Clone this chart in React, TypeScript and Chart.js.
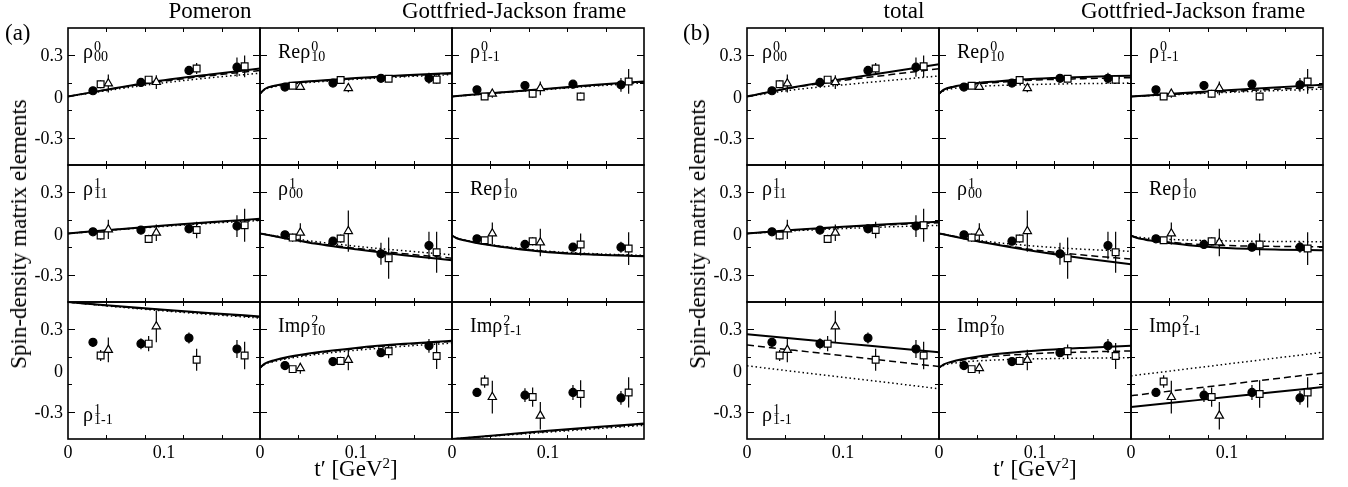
import React, { useEffect, useRef } from 'react';
import { Chart, registerables } from 'chart.js';
Chart.register(...registerables);

// ---------- axes ----------
const X_MIN = 0, X_MAX = 0.2;
const Y_MIN = -0.5, Y_MAX = 0.5;
const X_TICKS = [0, 0.02, 0.04, 0.06, 0.08, 0.1, 0.12, 0.14, 0.16, 0.18, 0.2];
const X_MAJOR = [0, 0.1];
const X_MAJOR_LABELS = ['0', '0.1'];
const Y_TICKS = [-0.5, -0.4, -0.3, -0.2, -0.1, 0, 0.1, 0.2, 0.3, 0.4, 0.5];
const Y_MAJOR = [-0.3, 0, 0.3];
const Y_MAJOR_LABELS = ['-0.3', '0', '0.3'];

// ---------- t' positions of the three data sets ----------
const T_CIRCLE = [0.026, 0.076, 0.126, 0.176];
const T_SQUARE = [0.034, 0.084, 0.134, 0.184];
const T_TRIANGLE = [0.042, 0.092];
// t' grids of the model curves
const T_LIN = [0, 0.05, 0.1, 0.15, 0.2];
const T_STEEP = [0, 0.005, 0.015, 0.03, 0.06, 0.1, 0.15, 0.2];

// ---------- measured values (same in (a) and (b)) ----------
// rho^0_00
const r000_circ = [0.042, 0.103, 0.19, 0.214];
const r000_circErr = [0.012, 0.015, 0.03, 0.07];
const r000_sq = [0.09, 0.123, 0.204, 0.22];
const r000_sqErr = [0.03, 0.02, 0.04, 0.08];
const r000_tri = [0.095, 0.105];
const r000_triErr = [0.065, 0.05];
// Re rho^0_10
const re010_circ = [0.069, 0.098, 0.133, 0.133];
const re010_circErr = [0.01, 0.015, 0.02, 0.04];
const re010_sq = [0.079, 0.12, 0.13, 0.123];
const re010_sqErr = [0.01, 0.02, 0.02, 0.03];
const re010_tri = [0.07, 0.061];
const re010_triErr = [0.02, 0.03];
// rho^0_1-1
const r01m1_circ = [0.049, 0.08, 0.09, 0.085];
const r01m1_circErr = [0.015, 0.025, 0.025, 0.05];
const r01m1_sq = [0.0, 0.02, 0.0, 0.11];
const r01m1_sqErr = [0.015, 0.03, 0.03, 0.09];
const r01m1_tri = [0.02, 0.06];
const r01m1_triErr = [0.03, 0.05];
// rho^1_11
const r111_circ = [0.012, 0.025, 0.034, 0.054];
const r111_circErr = [0.015, 0.03, 0.03, 0.08];
const r111_sq = [-0.015, -0.04, 0.025, 0.06];
const r111_sqErr = [0.03, 0.03, 0.06, 0.12];
const r111_tri = [0.03, 0.005];
const r111_triErr = [0.07, 0.06];
// rho^1_00
const r100_circ = [-0.01, -0.056, -0.148, -0.088];
const r100_circErr = [0.015, 0.03, 0.08, 0.1];
const r100_sq = [-0.03, -0.037, -0.18, -0.137];
const r100_sqErr = [0.03, 0.03, 0.15, 0.15];
const r100_tri = [0.005, 0.017];
const r100_triErr = [0.07, 0.15];
// Re rho^1_10
const re110_circ = [-0.039, -0.08, -0.1, -0.1];
const re110_circErr = [0.015, 0.03, 0.03, 0.04];
const re110_sq = [-0.049, -0.057, -0.08, -0.11];
const re110_sqErr = [0.02, 0.03, 0.08, 0.12];
const re110_tri = [0.0, -0.066];
const re110_triErr = [0.08, 0.1];
// rho^1_1-1
const r11m1_circ = [0.206, 0.196, 0.237, 0.157];
const r11m1_circErr = [0.03, 0.04, 0.04, 0.065];
const r11m1_sq = [0.109, 0.196, 0.078, 0.109];
const r11m1_sqErr = [0.04, 0.055, 0.08, 0.1];
const r11m1_tri = [0.15, 0.322];
const r11m1_triErr = [0.09, 0.115];
// Im rho^2_10
const im210_circ = [0.036, 0.065, 0.13, 0.18];
const im210_circErr = [0.01, 0.015, 0.03, 0.05];
const im210_sq = [0.01, 0.07, 0.14, 0.106];
const im210_sqErr = [0.02, 0.03, 0.05, 0.095];
const im210_tri = [0.017, 0.077];
const im210_triErr = [0.04, 0.075];
// Im rho^2_1-1
const im21m1_circ = [-0.16, -0.18, -0.16, -0.2];
const im21m1_circErr = [0.025, 0.05, 0.055, 0.05];
const im21m1_sq = [-0.08, -0.194, -0.172, -0.16];
const im21m1_sqErr = [0.045, 0.07, 0.1, 0.11];
const im21m1_tri = [-0.194, -0.33];
const im21m1_triErr = [0.12, 0.1];

// ---------- model curves (a) Pomeron ----------
const pom_r000_solid = [0, 0.062, 0.118, 0.162, 0.204];
const pom_r000_dash = [0, 0.06, 0.112, 0.154, 0.19];
const pom_r000_dot = [0, 0.053, 0.1, 0.138, 0.17];
const pom_re010_solid = [0.02, 0.055, 0.078, 0.097, 0.115, 0.135, 0.155, 0.172];
const pom_re010_dash = [0.02, 0.054, 0.076, 0.094, 0.112, 0.131, 0.15, 0.166];
const pom_re010_dot = [0.02, 0.05, 0.071, 0.089, 0.107, 0.126, 0.144, 0.16];
const pom_r01m1_solid = [0, 0.03, 0.057, 0.085, 0.11];
const pom_r01m1_dash = [0, 0.029, 0.055, 0.082, 0.106];
const pom_r01m1_dot = [0, 0.027, 0.052, 0.077, 0.1];
const pom_r111_solid = [0, 0.03, 0.058, 0.084, 0.107];
const pom_r111_dash = [0, 0.029, 0.056, 0.081, 0.102];
const pom_r111_dot = [0, 0.027, 0.052, 0.075, 0.095];
const pom_r100_solid = [0, -0.065, -0.115, -0.158, -0.195];
const pom_r100_dash = [0, -0.062, -0.108, -0.147, -0.18];
const pom_r100_dot = [0, -0.052, -0.093, -0.126, -0.155];
const pom_re110_solid = [-0.015, -0.035, -0.053, -0.075, -0.105, -0.136, -0.155, -0.166];
const pom_re110_dash = [-0.015, -0.034, -0.052, -0.073, -0.103, -0.133, -0.152, -0.163];
const pom_re110_dot = [-0.015, -0.033, -0.05, -0.07, -0.1, -0.129, -0.148, -0.16];
const pom_r11m1_solid = [0.5, 0.47, 0.443, 0.418, 0.395];
const pom_r11m1_dash = [0.5, 0.468, 0.44, 0.414, 0.39];
const pom_r11m1_dot = [0.5, 0.465, 0.435, 0.408, 0.383];
const pom_im210_solid = [0.02, 0.05, 0.075, 0.1, 0.133, 0.165, 0.195, 0.218];
const pom_im210_dash = [0.02, 0.048, 0.072, 0.096, 0.128, 0.16, 0.19, 0.212];
const pom_im210_dot = [0.02, 0.045, 0.066, 0.088, 0.118, 0.148, 0.177, 0.2];
const pom_im21m1_solid = [-0.5, -0.47, -0.44, -0.412, -0.387];
const pom_im21m1_dash = [-0.5, -0.472, -0.444, -0.417, -0.392];
const pom_im21m1_dot = [-0.5, -0.475, -0.45, -0.425, -0.4];

// ---------- model curves (b) total ----------
const tot_r000_solid = [0, 0.07, 0.127, 0.18, 0.235];
const tot_r000_dash = [0, 0.067, 0.117, 0.16, 0.203];
const tot_r000_dot = [0, 0.05, 0.085, 0.118, 0.15];
const tot_re010_solid = [0.02, 0.05, 0.072, 0.09, 0.11, 0.13, 0.143, 0.152];
const tot_re010_dash = [0.02, 0.048, 0.069, 0.086, 0.103, 0.12, 0.13, 0.137];
const tot_re010_dot = [0.02, 0.042, 0.058, 0.07, 0.08, 0.088, 0.094, 0.098];
const tot_r01m1_solid = [0, 0.023, 0.045, 0.066, 0.086];
const tot_r01m1_dash = [0, 0.018, 0.036, 0.053, 0.069];
const tot_r01m1_dot = [0, 0.015, 0.03, 0.043, 0.054];
const tot_r111_solid = [0, 0.028, 0.05, 0.07, 0.086];
const tot_r111_dash = [0, 0.025, 0.046, 0.064, 0.079];
const tot_r111_dot = [0, 0.02, 0.036, 0.049, 0.059];
const tot_r100_solid = [0, -0.07, -0.13, -0.18, -0.224];
const tot_r100_dash = [0, -0.066, -0.12, -0.157, -0.187];
const tot_r100_dot = [0, -0.058, -0.092, -0.115, -0.13];
const tot_re110_solid = [-0.015, -0.03, -0.045, -0.06, -0.085, -0.105, -0.117, -0.122];
const tot_re110_dash = [-0.015, -0.028, -0.042, -0.055, -0.075, -0.088, -0.094, -0.097];
const tot_re110_dot = [-0.015, -0.024, -0.033, -0.04, -0.048, -0.054, -0.058, -0.06];
const tot_r11m1_solid = [0.264, 0.231, 0.198, 0.166, 0.133];
const tot_r11m1_dash = [0.186, 0.147, 0.108, 0.068, 0.029];
const tot_r11m1_dot = [0.034, -0.008, -0.05, -0.091, -0.133];
const tot_im210_solid = [0.02, 0.045, 0.068, 0.09, 0.12, 0.145, 0.165, 0.18];
const tot_im210_dash = [0.02, 0.043, 0.063, 0.082, 0.105, 0.123, 0.135, 0.143];
const tot_im210_dot = [0.02, 0.038, 0.053, 0.065, 0.077, 0.085, 0.09, 0.094];
const tot_im21m1_solid = [-0.266, -0.23, -0.194, -0.157, -0.121];
const tot_im21m1_dash = [-0.184, -0.143, -0.102, -0.06, -0.019];
const tot_im21m1_dot = [-0.039, 0.004, 0.047, 0.09, 0.133];

// ---------- panel labels ----------
const LABEL_PREFIX = ['', 'Re', '', '', '', 'Re', '', 'Im', 'Im'];
const LABEL_SUP = ['0', '0', '0', '1', '1', '1', '1', '2', '2'];
const LABEL_SUB = ['00', '10', '1-1', '11', '00', '10', '1-1', '10', '1-1'];
const LABEL_AT_BOTTOM = [false, false, false, false, false, false, true, false, false];

// ---------- tables built from the arrays ----------
const ELEMENTS = [
  { circ: r000_circ, circErr: r000_circErr, sq: r000_sq, sqErr: r000_sqErr, tri: r000_tri, triErr: r000_triErr, curveT: T_LIN },
  { circ: re010_circ, circErr: re010_circErr, sq: re010_sq, sqErr: re010_sqErr, tri: re010_tri, triErr: re010_triErr, curveT: T_STEEP },
  { circ: r01m1_circ, circErr: r01m1_circErr, sq: r01m1_sq, sqErr: r01m1_sqErr, tri: r01m1_tri, triErr: r01m1_triErr, curveT: T_LIN },
  { circ: r111_circ, circErr: r111_circErr, sq: r111_sq, sqErr: r111_sqErr, tri: r111_tri, triErr: r111_triErr, curveT: T_LIN },
  { circ: r100_circ, circErr: r100_circErr, sq: r100_sq, sqErr: r100_sqErr, tri: r100_tri, triErr: r100_triErr, curveT: T_LIN },
  { circ: re110_circ, circErr: re110_circErr, sq: re110_sq, sqErr: re110_sqErr, tri: re110_tri, triErr: re110_triErr, curveT: T_STEEP },
  { circ: r11m1_circ, circErr: r11m1_circErr, sq: r11m1_sq, sqErr: r11m1_sqErr, tri: r11m1_tri, triErr: r11m1_triErr, curveT: T_LIN },
  { circ: im210_circ, circErr: im210_circErr, sq: im210_sq, sqErr: im210_sqErr, tri: im210_tri, triErr: im210_triErr, curveT: T_STEEP },
  { circ: im21m1_circ, circErr: im21m1_circErr, sq: im21m1_sq, sqErr: im21m1_sqErr, tri: im21m1_tri, triErr: im21m1_triErr, curveT: T_LIN },
];

const POMERON_CURVES = [
  [pom_r000_solid, pom_r000_dash, pom_r000_dot],
  [pom_re010_solid, pom_re010_dash, pom_re010_dot],
  [pom_r01m1_solid, pom_r01m1_dash, pom_r01m1_dot],
  [pom_r111_solid, pom_r111_dash, pom_r111_dot],
  [pom_r100_solid, pom_r100_dash, pom_r100_dot],
  [pom_re110_solid, pom_re110_dash, pom_re110_dot],
  [pom_r11m1_solid, pom_r11m1_dash, pom_r11m1_dot],
  [pom_im210_solid, pom_im210_dash, pom_im210_dot],
  [pom_im21m1_solid, pom_im21m1_dash, pom_im21m1_dot],
];
const TOTAL_CURVES = [
  [tot_r000_solid, tot_r000_dash, tot_r000_dot],
  [tot_re010_solid, tot_re010_dash, tot_re010_dot],
  [tot_r01m1_solid, tot_r01m1_dash, tot_r01m1_dot],
  [tot_r111_solid, tot_r111_dash, tot_r111_dot],
  [tot_r100_solid, tot_r100_dash, tot_r100_dot],
  [tot_re110_solid, tot_re110_dash, tot_re110_dot],
  [tot_r11m1_solid, tot_r11m1_dash, tot_r11m1_dot],
  [tot_im210_solid, tot_im210_dash, tot_im210_dot],
  [tot_im21m1_solid, tot_im21m1_dash, tot_im21m1_dot],
];

// ---------- layout ----------
const SERIF = '"Liberation Serif", "Times New Roman", Times, serif';
const PANEL_W = 192;
const PANEL_H = 137;
const GRID_TOP = 28;
const GROUPS = [
  { left: 68, curves: POMERON_CURVES, tag: '(a)', tagX: 5, title: 'Pomeron', titleX: 210, frameX: 402, yTitleX: 19 },
  { left: 747, curves: TOTAL_CURVES, tag: '(b)', tagX: 683, title: 'total', titleX: 904, frameX: 1081, yTitleX: 698 },
];
const PAD_L = 60, PAD_T = 8, PAD_R = 8, PAD_B = 32;

function pts(ts: number[], vs: number[]) {
  return ts.map((t, i) => ({ x: t, y: vs[i] }));
}
function errPts(ts: number[], vs: number[], es: number[]) {
  const out: any[] = [];
  ts.forEach((t, i) => {
    out.push({ x: t, y: vs[i] - es[i] }, { x: t, y: vs[i] + es[i] }, { x: t, y: null });
  });
  return out;
}
function isIn(v: number, list: number[]) {
  return list.some((m) => Math.abs(m - v) < 1e-9);
}

function makeFramePlugin(showX: boolean, showY: boolean) {
  return {
    id: 'frameTicks',
    afterDatasetsDraw(chart: any) {
      const ctx = chart.ctx;
      const a = chart.chartArea;
      const xs = chart.scales.x;
      const ys = chart.scales.y;
      ctx.save();
      ctx.strokeStyle = '#000';
      ctx.fillStyle = '#000';
      ctx.lineWidth = 1;
      ctx.beginPath();
      for (const tk of xs.ticks) {
        const v = tk.value;
        const px = Math.round(xs.getPixelForValue(v)) + 0.5;
        if (px <= a.left + 1 || px >= a.right - 1) continue;
        const len = isIn(v, X_MAJOR) ? 7 : 4;
        ctx.moveTo(px, a.bottom); ctx.lineTo(px, a.bottom - len);
        ctx.moveTo(px, a.top); ctx.lineTo(px, a.top + len);
      }
      for (const tk of ys.ticks) {
        const v = tk.value;
        const py = Math.round(ys.getPixelForValue(v)) + 0.5;
        if (py <= a.top + 1 || py >= a.bottom - 1) continue;
        const len = isIn(v, Y_MAJOR) ? 7 : 4;
        ctx.moveTo(a.left, py); ctx.lineTo(a.left + len, py);
        ctx.moveTo(a.right, py); ctx.lineTo(a.right - len, py);
      }
      ctx.stroke();
      ctx.lineWidth = 1.6;
      ctx.strokeRect(a.left, a.top, a.right - a.left, a.bottom - a.top);
      ctx.font = '18px ' + SERIF;
      if (showY) {
        ctx.textAlign = 'right';
        ctx.textBaseline = 'alphabetic';
        Y_MAJOR.forEach((v, i) => ctx.fillText(Y_MAJOR_LABELS[i], a.left - 5, ys.getPixelForValue(v) + 6));
      }
      if (showX) {
        ctx.textAlign = 'center';
        ctx.textBaseline = 'alphabetic';
        X_MAJOR.forEach((v, i) => ctx.fillText(X_MAJOR_LABELS[i], xs.getPixelForValue(v), a.bottom + 19));
      }
      ctx.restore();
    },
  };
}

function buildConfig(el: any, curves: number[][], showX: boolean, showY: boolean) {
  const markerCommon = { showLine: false, borderColor: '#000', borderWidth: 1.2, order: 0 };
  const errCommon = { showLine: true, pointRadius: 0, borderColor: '#000', borderWidth: 1.2, spanGaps: false, order: 1 };
  const curveCommon = { showLine: true, pointRadius: 0, borderColor: '#000', cubicInterpolationMode: 'monotone', order: 2, fill: false };
  return {
    type: 'scatter',
    data: {
      datasets: [
        { ...markerCommon, label: 'circles', data: pts(T_CIRCLE, el.circ), pointStyle: 'circle', pointRadius: 4, backgroundColor: '#000' },
        { ...markerCommon, label: 'squares', data: pts(T_SQUARE, el.sq), pointStyle: 'rect', pointRadius: 4.8, backgroundColor: '#fff' },
        { ...markerCommon, label: 'triangles', data: pts(T_TRIANGLE, el.tri), pointStyle: 'triangle', pointRadius: 4.8, backgroundColor: '#fff' },
        { ...errCommon, label: 'circle errors', data: errPts(T_CIRCLE, el.circ, el.circErr) },
        { ...errCommon, label: 'square errors', data: errPts(T_SQUARE, el.sq, el.sqErr) },
        { ...errCommon, label: 'triangle errors', data: errPts(T_TRIANGLE, el.tri, el.triErr) },
        { ...curveCommon, label: 'solid', data: pts(el.curveT, curves[0]), borderWidth: 2 },
        { ...curveCommon, label: 'dashed', data: pts(el.curveT, curves[1]), borderWidth: 1.5, borderDash: [7, 4] },
        { ...curveCommon, label: 'dotted', data: pts(el.curveT, curves[2]), borderWidth: 1.5, borderDash: [1.5, 2.8] },
      ],
    },
    options: {
      responsive: false,
      animation: false,
      devicePixelRatio: 1,
      events: [],
      layout: { padding: { left: PAD_L, top: PAD_T, right: PAD_R, bottom: PAD_B } },
      plugins: { legend: { display: false }, tooltip: { enabled: false } },
      scales: {
        x: {
          type: 'linear', display: false, min: X_MIN, max: X_MAX,
          afterBuildTicks: (scale: any) => { scale.ticks = X_TICKS.map((v) => ({ value: v })); },
        },
        y: {
          type: 'linear', display: false, min: Y_MIN, max: Y_MAX,
          afterBuildTicks: (scale: any) => { scale.ticks = Y_TICKS.map((v) => ({ value: v })); },
        },
      },
    },
    plugins: [makeFramePlugin(showX, showY)],
  };
}

function Panel({ el, curves, left, top, showX, showY }: any) {
  const ref = useRef<HTMLCanvasElement | null>(null);
  useEffect(() => {
    const chart = new Chart(ref.current as any, buildConfig(el, curves, showX, showY) as any);
    return () => chart.destroy();
  }, []);
  const w = PANEL_W + PAD_L + PAD_R;
  const h = PANEL_H + PAD_T + PAD_B;
  return (
    <canvas
      ref={ref}
      width={w}
      height={h}
      style={{ position: 'absolute', left: left - PAD_L, top: top - PAD_T, width: w, height: h }}
    />
  );
}

function Txt({ x, baseline, size, center, children }: any) {
  return (
    <div
      style={{
        position: 'absolute',
        left: x,
        top: baseline - 0.891 * size,
        fontFamily: SERIF,
        fontSize: size,
        lineHeight: `${1.107 * size}px`,
        whiteSpace: 'nowrap',
        color: '#000',
        transform: center ? 'translateX(-50%)' : undefined,
      }}
    >
      {children}
    </div>
  );
}

function PanelLabel({ x, baseline, prefix, sup, sub }: any) {
  return (
    <Txt x={x} baseline={baseline} size={20}>
      {prefix}ρ
      <span style={{ display: 'inline-block', position: 'relative', width: 0, height: 0 }}>
        <span style={{ position: 'absolute', left: 1, top: -18, fontSize: 14, lineHeight: '14px' }}>{sup}</span>
        <span style={{ position: 'absolute', left: 1, top: -8, fontSize: 14, lineHeight: '14px' }}>{sub}</span>
      </span>
    </Txt>
  );
}

export default function App() {
  const items: any[] = [];
  GROUPS.forEach((g, gi) => {
    for (let r = 0; r < 3; r++) {
      for (let c = 0; c < 3; c++) {
        const k = r * 3 + c;
        const left = g.left + c * PANEL_W;
        const top = GRID_TOP + r * PANEL_H;
        items.push(
          <Panel key={`p${gi}-${k}`} el={ELEMENTS[k]} curves={g.curves[k]} left={left} top={top} showX={r === 2} showY={c === 0} />
        );
        items.push(
          <PanelLabel
            key={`l${gi}-${k}`}
            x={left + (c === 0 ? 15 : 18)}
            baseline={LABEL_AT_BOTTOM[k] ? top + 119 : top + 30}
            prefix={LABEL_PREFIX[k]}
            sup={LABEL_SUP[k]}
            sub={LABEL_SUB[k]}
          />
        );
      }
    }
  });
  return (
    <div style={{ position: 'fixed', left: 0, top: 0, width: 1348, height: 487, background: '#fff', overflow: 'hidden' }}>
      {items}
      {GROUPS.map((g, gi) => (
        <React.Fragment key={`t${gi}`}>
          <Txt x={g.tagX} baseline={40} size={23}>{g.tag}</Txt>
          <Txt x={g.titleX} baseline={18} size={23} center>{g.title}</Txt>
          <Txt x={g.frameX} baseline={18} size={23}>Gottfried-Jackson frame</Txt>
          <Txt x={g.left + PANEL_W * 1.5} baseline={476} size={23} center>
            t′ [GeV<span style={{ fontSize: 15, position: 'relative', top: -8 }}>2</span>]
          </Txt>
          <div
            style={{
              position: 'absolute',
              left: g.yTitleX,
              top: GRID_TOP + 1.5 * PANEL_H,
              transform: 'translate(-50%, -50%) rotate(-90deg)',
              fontFamily: SERIF,
              fontSize: 23,
              whiteSpace: 'nowrap',
              lineHeight: '26px',
            }}
          >
            Spin-density matrix elements
          </div>
        </React.Fragment>
      ))}
    </div>
  );
}
